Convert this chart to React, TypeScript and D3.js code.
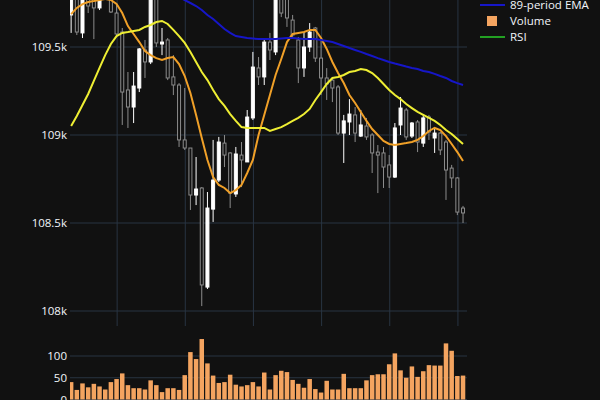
import React from 'react';
import * as d3 from 'd3';

const opens = [109682,109795,109580,109778,109784,109722,109892,109801,109693,109585,109256,109159,109267,109483,109415,109824,109517,109540,109330,109284,108972,108926,108659,108699,108136,108579,108744,108954,108898,108665,108886,108847,109097,109381,109330,109528,109472,109812,109784,109653,109540,109381,109500,109608,109437,109324,109312,109273,109011,109074,109114,108994,109051,109000,108903,108898,108830,108761,109057,109142,108994,109074,108954,109102,108983,109011,108960,108812,108756,108585];
const highs = [109835,109825,109812,109801,109812,109790,109926,109835,109739,109608,109358,109358,109494,109540,109881,109852,109608,109551,109454,109295,109267,108926,108875,108704,108676,108972,108989,109000,108903,108932,108960,109142,109472,109443,109540,109580,109824,109835,109812,109682,109557,109585,109636,109614,109540,109380,109324,109284,109114,109204,109159,109142,109097,109011,108943,108932,108886,109068,109216,109153,109074,109085,109114,109114,109034,109017,108972,108830,108761,108597];
const lows = [109580,109568,109551,109693,109545,109710,109784,109693,109562,109057,109040,109068,109244,109324,109403,109500,109454,109312,109227,108932,108915,108574,108602,108028,108125,108506,108733,108818,108585,108648,108704,108847,109085,109284,109284,109426,109454,109670,109614,109557,109295,109330,109472,109415,109227,109199,109187,109000,108841,109000,108960,108989,108972,108784,108670,108699,108699,108756,109000,108972,108983,108903,108932,108972,108898,108886,108631,108699,108545,108500];
const closes = [109812,109585,109785,109733,109722,109767,109812,109699,109574,109244,109159,109278,109489,109415,109852,109523,109528,109324,109284,108972,108926,108659,108693,108148,108585,108744,108960,108886,108670,108892,108858,109102,109386,109330,109528,109483,109795,109693,109665,109568,109381,109500,109585,109437,109324,109290,109267,109011,109080,109119,109011,109057,108989,108898,108886,108818,108761,109040,109153,108989,109068,108960,109097,109017,109011,108915,108801,108756,108562,108557];

const ema9 = [109687,109722,109744,109756,109761,109767,109773,109767,109744,109693,109619,109574,109528,109477,109454,109437,109426,109437,109443,109403,109335,109239,109114,108983,108858,108761,108716,108699,108670,108687,108716,108784,108858,109000,109114,109227,109341,109432,109528,109574,109580,109585,109597,109597,109551,109489,109415,109352,109295,109227,109182,109131,109080,109034,109000,108966,108949,108943,108949,108954,108960,108972,108994,109023,109040,109028,108994,108949,108903,108852];
const ema21 = [109051,109108,109170,109233,109307,109381,109454,109517,109562,109580,109585,109591,109597,109614,109625,109642,109648,109631,109597,109562,109523,109472,109415,109358,109312,109256,109204,109165,109119,109080,109045,109040,109040,109040,109040,109023,109034,109045,109062,109080,109097,109119,109148,109199,109244,109290,109324,109330,109341,109358,109364,109375,109369,109352,109324,109290,109256,109227,109204,109176,109153,109131,109114,109097,109080,109057,109028,109006,108977,108949];
const ema89 = [null,null,null,null,null,null,null,null,null,null,null,null,null,null,null,null,109835,109818,109801,109784,109767,109750,109733,109710,109682,109659,109631,109602,109580,109562,109557,109551,109548,109545,109545,109545,109545,109548,109551,109551,109548,109545,109545,109545,109540,109534,109528,109517,109506,109494,109483,109472,109460,109449,109437,109426,109415,109406,109398,109389,109381,109375,109364,109358,109347,109335,109324,109307,109295,109284];

const volumes = [40,22,37,28,36,30,23,40,47,60,33,26,26,23,44,33,17,26,26,22,56,109,93,139,83,55,38,40,57,34,30,33,40,30,62,23,56,66,63,45,36,27,47,24,16,43,23,23,59,26,26,26,44,56,58,58,81,106,67,50,76,52,65,79,78,78,129,112,54,55];

const priceTicks = [108000, 108500, 109000, 109500];
const volumeTicks = [0, 50, 100];
const timeGridIdx = [8.1, 20.1, 32.1, 44.1, 56.1, 68.1];
const legendLabels = ['89-period EMA', 'Volume', 'RSI'];

const BG = '#111111';
const GRID = '#283442';
const TEXT = '#f2f5fa';
const UP = '#ffffff';
const DOWN = '#8c8c8c';
const C_EMA9 = '#f0a028';
const C_EMA21 = '#eeee33';
const C_EMA89 = '#1616c8';
const C_VOL = '#f4a460';
const C_RSI = '#22a022';
const FONT = '"Open Sans", Verdana, Arial, sans-serif';

export default function App() {
  const W = 600, H = 400;
  const L = 70, R = 467;
  const x = d3.scaleLinear().domain([-0.2, 69.7]).range([L, R]);
  const y = d3.scaleLinear().domain([108000, 109500]).range([311, 47]);
  const yv = d3.scaleLinear().domain([0, 100]).range([399.5, 356]);
  const idx = d3.range(opens.length);

  const mkLine = (arr: (number | null)[]) =>
    d3.line<number>()
      .defined((i) => arr[i] != null)
      .x((i) => x(i))
      .y((i) => y(arr[i] as number))
      .curve(d3.curveLinear)(idx) || '';

  const bodyW = 3;
  const barW = 4.5;
  const fmt = (v: number) => `${+(v / 1000).toFixed(1)}k`;

  return (
    <svg width={W} height={H} style={{ position: 'absolute', left: 0, top: 0, display: 'block', background: BG }} fontFamily={FONT}>
      <defs>
        <clipPath id="pricePane"><rect x={L} y={-60} width={R - L} height={386} /></clipPath>
        <clipPath id="volPane"><rect x={L} y={330} width={R - L} height={80} /></clipPath>
      </defs>
      <rect x={0} y={0} width={W} height={H} fill={BG} />

      {/* price pane grid */}
      {timeGridIdx.map((t) => (
        <line key={'vg' + t} x1={x(t)} x2={x(t)} y1={0} y2={326} stroke={GRID} strokeWidth={1} />
      ))}
      {priceTicks.map((p) => (
        <line key={'hg' + p} x1={L} x2={R} y1={y(p)} y2={y(p)} stroke={GRID} strokeWidth={1} />
      ))}
      {priceTicks.map((p) => (
        <text key={'pt' + p} x={67} y={y(p)} dy="0.36em" textAnchor="end" fontSize={11.5} fill={TEXT}>{fmt(p)}</text>
      ))}

      {/* candles */}
      <g clipPath="url(#pricePane)">
        {idx.map((i) => {
          const up = closes[i] >= opens[i];
          const col = up ? UP : DOWN;
          const top = y(Math.max(opens[i], closes[i]));
          const bot = y(Math.min(opens[i], closes[i]));
          return (
            <g key={'c' + i}>
              <line x1={x(i)} x2={x(i)} y1={y(highs[i])} y2={y(lows[i])} stroke={col} strokeWidth={1} />
              <rect x={x(i) - bodyW / 2} y={top} width={bodyW} height={Math.max(bot - top, 0.8)} fill={up ? UP : BG} stroke={col} strokeWidth={1} />
            </g>
          );
        })}
        <path d={mkLine(ema9)} fill="none" stroke={C_EMA9} strokeWidth={2} />
        <path d={mkLine(ema21)} fill="none" stroke={C_EMA21} strokeWidth={2} />
        <path d={mkLine(ema89)} fill="none" stroke={C_EMA89} strokeWidth={2} />
      </g>

      {/* volume pane */}
      {volumeTicks.map((v) => (
        <line key={'vgl' + v} x1={L} x2={R} y1={yv(v)} y2={yv(v)} stroke={GRID} strokeWidth={1} />
      ))}
      {volumeTicks.map((v) => (
        <text key={'vt' + v} x={67} y={yv(v)} dy="0.36em" textAnchor="end" fontSize={11.5} fill={TEXT}>{v}</text>
      ))}
      <g clipPath="url(#volPane)">
        {idx.map((i) => (
          <rect key={'v' + i} x={x(i) - barW / 2} y={yv(volumes[i])} width={barW} height={yv(0) - yv(volumes[i])} fill={C_VOL} />
        ))}
      </g>

      {/* legend (visible part) */}
      <g fontSize={11.5} fill={TEXT}>
        <line x1={480} x2={505} y1={5} y2={5} stroke={C_EMA89} strokeWidth={2} />
        <text x={510} y={5} dy="0.36em">{legendLabels[0]}</text>
        <rect x={487} y={16} width={10} height={10} fill={C_VOL} />
        <text x={510} y={21} dy="0.36em">{legendLabels[1]}</text>
        <line x1={480} x2={505} y1={37} y2={37} stroke={C_RSI} strokeWidth={2} />
        <text x={510} y={37} dy="0.36em">{legendLabels[2]}</text>
      </g>
    </svg>
  );
}
